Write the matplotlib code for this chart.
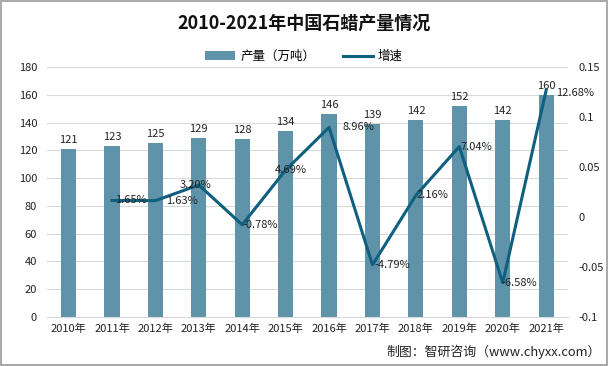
import matplotlib
matplotlib.use("Agg")
import matplotlib.pyplot as plt
from matplotlib.patches import Rectangle

plt.rcParams['font.family'] = ['Noto Sans CJK SC', 'DejaVu Sans']

years = ['2010年', '2011年', '2012年', '2013年', '2014年', '2015年',
         '2016年', '2017年', '2018年', '2019年', '2020年', '2021年']
output = [121, 123, 125, 129, 128, 134, 146, 139, 142, 152, 142, 160]
growth = [None, 0.0165, 0.0163, 0.0320, -0.0078, 0.0469, 0.0896,
          -0.0479, 0.0216, 0.0704, -0.0658, 0.1268]
growth_labels = ['', '1.65%', '1.63%', '3.20%', '-0.78%', '4.69%', '8.96%',
                 '-4.79%', '2.16%', '7.04%', '-6.58%', '12.68%']
# horizontal label offsets in points (label centre relative to point)
label_dx = [0, 14, 19, -2, 13, 4, 21, 14, 12, 12, 12, 21]
label_dy = [0, 0, 0, 0, 0, 0, 0, 0, 0, 0, 0, -2]

bar_color = '#5f93a9'
line_color = '#0f5f7f'
text_color = '#222222'
fs = 8

fig = plt.figure(figsize=(6.08, 3.66), dpi=100)
fig.patch.set_facecolor('white')
fig.add_artist(Rectangle((0.001, 0.002), 0.997, 0.995, transform=fig.transFigure,
                         fill=False, edgecolor='#9a9a9a', linewidth=1.2))

ax = fig.add_axes([0.077, 0.134, 0.857, 0.683])
x = list(range(len(years)))
bars = ax.bar(x, output, width=0.35, color=bar_color, zorder=2, label='产量（万吨）')
ax.set_ylim(0, 180)
ax.set_yticks(range(0, 181, 20))
ax.set_xlim(-0.5, len(years) - 0.5)
ax.set_xticks(x)
ax.set_xticklabels(years)
ax.grid(axis='y', color='#d9d9d9', linewidth=0.8, zorder=0)
for s in ['top', 'right', 'left']:
    ax.spines[s].set_visible(False)
ax.spines['bottom'].set_color('#d9d9d9')
ax.tick_params(axis='both', length=0, labelsize=fs, colors=text_color)
ax.tick_params(axis='x', pad=5)
ax.tick_params(axis='y', pad=7)

for xi, v in zip(x, output):
    ax.annotate(str(v), (xi, v), xytext=(0, 3), textcoords='offset points',
                ha='center', va='bottom', fontsize=fs, color=text_color)

ax2 = ax.twinx()
ax2.set_ylim(-0.1, 0.15)
ax2.set_yticks([-0.1, -0.05, 0, 0.05, 0.1, 0.15])
ax2.set_yticklabels(['-0.1', '-0.05', '0', '0.05', '0.1', '0.15'])
for s in ['top', 'right', 'left', 'bottom']:
    ax2.spines[s].set_visible(False)
ax2.tick_params(axis='y', length=0, labelsize=fs, colors=text_color, pad=8)

gx = [xi for xi, g in zip(x, growth) if g is not None]
gy = [g for g in growth if g is not None]
line, = ax2.plot(gx, gy, color=line_color, linewidth=2.2, zorder=3, label='增速')
for xi, g, lab, dx, dy in zip(x, growth, growth_labels, label_dx, label_dy):
    if g is None:
        continue
    ax2.annotate(lab, (xi, g), xytext=(dx, dy), textcoords='offset points',
                 ha='center', va='center', fontsize=fs, color=text_color, zorder=4)

fig.text(0.5, 0.937, '2010-2021年中国石蜡产量情况', ha='center', va='center',
         fontsize=13, fontweight='bold', color='#111111')
fig.legend(handles=[bars, line], labels=['产量（万吨）', '增速'],
           loc='center', bbox_to_anchor=(0.5, 0.845), ncol=2, frameon=False,
           fontsize=9, handlelength=2.4, columnspacing=2.2, handletextpad=0.4)
fig.text(0.988, 0.04, '制图：智研咨询（www.chyxx.com）', ha='right', va='center',
         fontsize=9.3, color=text_color)

fig.savefig('out.png', dpi=100, facecolor='white')
